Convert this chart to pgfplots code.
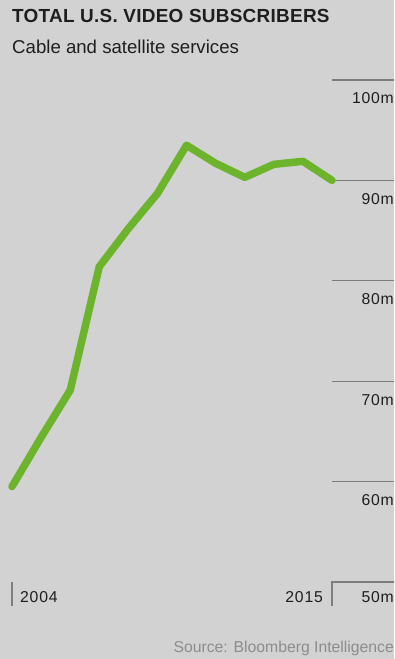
\documentclass[border=0pt]{standalone}
\usepackage{pgfplots}
\pgfplotsset{compat=1.18}
\usepackage{fontspec}
\setmainfont{Liberation Sans}
\definecolor{bg}{RGB}{210,210,210}
\definecolor{linegreen}{RGB}{108,180,44}
\definecolor{gridgray}{RGB}{125,125,125}
\definecolor{ink}{RGB}{30,30,30}
\definecolor{srcgray}{RGB}{140,140,140}
\newcommand{\ticklbl}{\fontsize{15.8}{18}\selectfont\addfontfeatures{LetterSpace=5}}

\begin{document}
\begin{tikzpicture}[x=1bp,y=1bp]
\fill[bg] (0,0) rectangle (394,659);
\node[anchor=base west, inner sep=0, text=ink,
      font=\fontsize{19}{22}\selectfont\bfseries\addfontfeatures{LetterSpace=1.5}]
  at (12,636) {TOTAL U.S. VIDEO SUBSCRIBERS};
\node[anchor=base west, inner sep=0, text=ink, font=\fontsize{18.7}{22}\selectfont]
  at (12,605) {Cable and satellite services};
\node[anchor=base east, inner sep=0, text=srcgray, font=\fontsize{15.8}{18}\selectfont]
  at (394,6) {Source: Bloomberg Intelligence};

\begin{axis}[
  at={(12bp,77bp)}, anchor=south west,
  scale only axis, width=382bp, height=502bp,
  xmin=2004, xmax=2017.1313, ymin=50, ymax=100,
  hide axis, clip=false,
]
% right-hand gridlines with their value labels
\pgfplotsinvokeforeach{60,70,80,90,100}{
  \draw[gridgray, line width=1.3bp] (axis cs:2015,#1) -- (axis cs:2017.1313,#1);
  \node[anchor=base east, inner sep=0, text=ink, font=\ticklbl]
    at ([yshift=-24bp]axis cs:2017.1313,#1) {#1m};
}
% baseline bracket and first-year tick
\draw[gridgray, line width=1.3bp] ([yshift=-24bp]axis cs:2015,50) -- (axis cs:2015,50) -- (axis cs:2017.1313,50);
\draw[gridgray, line width=1.3bp] ([yshift=-24bp]axis cs:2004,50) -- (axis cs:2004,50);
\node[anchor=base west, inner sep=0, text=ink, font=\ticklbl]
  at ([xshift=8bp,yshift=-21bp]axis cs:2004,50) {2004};
\node[anchor=base east, inner sep=0, text=ink, font=\ticklbl]
  at ([xshift=-9bp,yshift=-21bp]axis cs:2015,50) {2015};
\node[anchor=base east, inner sep=0, text=ink, font=\ticklbl]
  at ([yshift=-21bp]axis cs:2017.1313,50) {50m};

\addplot[linegreen, line width=7.5bp, line join=round, line cap=round] coordinates {
  (2004,59.5) (2005,64.4) (2006,69.1) (2007,81.4) (2008,85.2) (2009,88.7)
  (2010,93.5) (2011,91.7) (2012,90.3) (2013,91.6) (2014,91.9) (2015,90.0)
};
\end{axis}
\end{tikzpicture}
\end{document}
